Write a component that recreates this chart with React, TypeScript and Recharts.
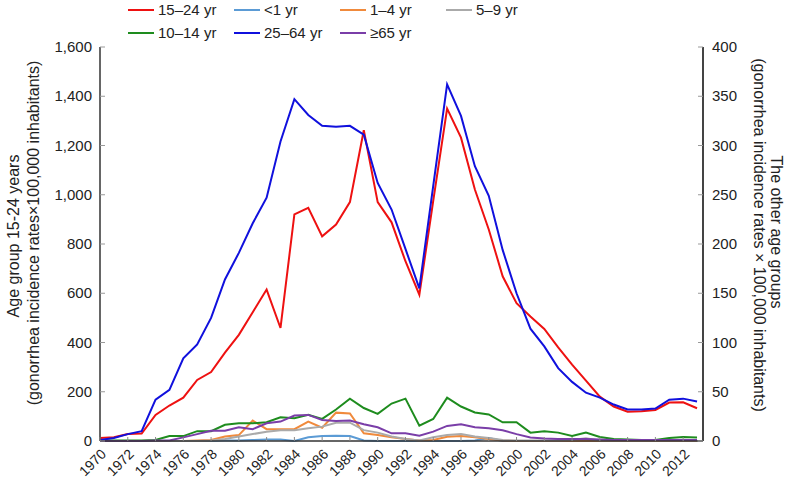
import React from 'react';
import { LineChart, Line, XAxis, YAxis } from 'recharts';

// Gonorrhea incidence by age group, 1970–2013.
// 15–24 yr is read on the left axis, every other group on the right.
const years = [
  1970, 1971, 1972, 1973, 1974, 1975, 1976, 1977, 1978, 1979,
  1980, 1981, 1982, 1983, 1984, 1985, 1986, 1987, 1988, 1989,
  1990, 1991, 1992, 1993, 1994, 1995, 1996, 1997, 1998, 1999,
  2000, 2001, 2002, 2003, 2004, 2005, 2006, 2007, 2008, 2009,
  2010, 2011, 2012, 2013,
];

const age15to24 = [
  12, 15, 28, 30, 106, 144, 176, 248, 280, 359,
  431, 523, 615, 459, 920, 947, 831, 879, 970, 1262,
  970, 888, 730, 594, 975, 1350, 1232, 1021, 859, 669,
  560, 506, 455, 380, 310, 245, 180, 140, 119, 121,
  126, 156, 157, 133,
];
const ageUnder1 = [
  0, 0, 0, 0, 0, 0, 0, 0, 0, 0.5,
  0.5, 1, 1.5, 1.5, 0, 3.7, 5, 5.4, 5, 0.5,
  0, 0, 0, 0, 0, 0, 0, 0.5, 3, 0,
  0, 0, 0, 0, 0, 0, 0, 0, 0, 0,
  0, 0, 0, 0,
];
const age1to4 = [
  0, 0, 0, 0, 0, 0, 0, 0.5, 1, 4.5,
  6, 20.7, 12, 12, 12, 19.7, 13.5, 28.8, 28, 7.8,
  6, 3.7, 2, 0.5, 1, 4.4, 5, 3.7, 2, 0.5,
  0, 0, 0, 0, 0, 0, 0, 0, 0, 0,
  0, 0, 0, 0,
];
const age5to9 = [
  0, 0, 0, 0, 0, 0, 0, 0, 0.5, 2,
  4.5, 7, 9.5, 11, 11, 13, 14.6, 18.6, 18.6, 11,
  8.5, 4.5, 2, 0.5, 3.7, 6, 7, 4.5, 3, 1,
  0.5, 0.5, 0.5, 0.5, 1, 2.7, 0.5, 0.5, 0.5, 0.5,
  0.5, 0.5, 0.5, 0.5,
];
const age10to14 = [
  0.5, 0.5, 0.5, 0.5, 1, 5, 5, 10, 10, 16.5,
  18, 18, 19, 24, 23, 26.5, 22.5, 32, 43, 33.5,
  27.5, 38, 43, 15.6, 22.4, 44, 35, 29, 27, 19,
  19, 8.5, 10, 8.5, 5, 8.5, 4, 2, 1.5, 1,
  1, 3, 4, 3.5,
];
const age25to64 = [
  1, 3, 7, 10, 42, 52, 84, 98, 125, 164,
  191, 221, 247, 304, 347, 331, 320, 319, 320, 311,
  262, 235, 195, 155, 259, 362, 330, 279, 249, 194,
  150, 114, 96, 74, 60, 49, 44, 37, 32, 32,
  33, 42, 43, 40,
];
const age65plus = [
  0, 0, 0, 0, 0.5, 0.5, 3.7, 7, 10.5, 10.5,
  14, 12, 18, 19.7, 25.8, 26.5, 21.4, 20.4, 20.7, 17,
  14, 7.8, 7.8, 5.4, 9.5, 15.3, 17, 14, 13, 11,
  7, 3.5, 2.5, 2, 2, 2, 1.5, 1, 1, 1,
  1, 1, 1, 1,
];

const xTicks = [
  1970, 1972, 1974, 1976, 1978, 1980, 1982, 1984, 1986, 1988, 1990,
  1992, 1994, 1996, 1998, 2000, 2002, 2004, 2006, 2008, 2010, 2012,
];
const leftTicks = [0, 200, 400, 600, 800, 1000, 1200, 1400, 1600];
const rightTicks = [0, 50, 100, 150, 200, 250, 300, 350, 400];

const data = years.map((year, i) => ({
  year,
  a15: age15to24[i],
  a0: ageUnder1[i],
  a1: age1to4[i],
  a5: age5to9[i],
  a10: age10to14[i],
  a25: age25to64[i],
  a65: age65plus[i],
}));

const FONT = '"Liberation Sans", Arial, Helvetica, sans-serif';
const NARROW = '"Liberation Sans Narrow", "Arial Narrow", "Liberation Sans", Arial, sans-serif';

const COLORS = {
  a15: '#ee1111',
  a0: '#5b9bd5',
  a1: '#f08a3c',
  a5: '#aaaaaa',
  a10: '#1e8c1e',
  a25: '#1010dd',
  a65: '#7a3ea8',
};

const legendRows = [
  [
    { key: 'a15', label: '15–24 yr' },
    { key: 'a0', label: '<1 yr' },
    { key: 'a1', label: '1–4 yr' },
    { key: 'a5', label: '5–9 yr' },
  ],
  [
    { key: 'a10', label: '10–14 yr' },
    { key: 'a25', label: '25–64 yr' },
    { key: 'a65', label: '≥65 yr' },
  ],
];

const fmtThousands = (v: number) => v.toLocaleString('en-US');

const LegendBox = () => (
  <svg width={798} height={44} style={{ display: 'block' }}>
    {legendRows.map((row, r) =>
      row.map((item, c) => {
        const x = 128 + c * 106;
        const y = 10 + r * 23;
        return (
          <g key={item.key}>
            <line x1={x} x2={x + 26} y1={y} y2={y} stroke={(COLORS as any)[item.key]} strokeWidth={2} />
            <text x={x + 30} y={y} dy={5} fontSize={15} fontFamily={NARROW} fill="#222">
              {item.label}
            </text>
          </g>
        );
      })
    )}
  </svg>
);

const XTick = ({ x, y, payload }: any) => (
  <g>
    <line x1={x} x2={x} y1={y} y2={y - 4} stroke="#888" />
    <text
      x={x + 7}
      y={y + 14}
      textAnchor="end"
      fontSize={14}
      fontFamily={FONT}
      fill="#222"
      transform={`rotate(-45, ${x + 7}, ${y + 14})`}
    >
      {payload.value}
    </text>
  </g>
);

const LeftTick = ({ x, y, payload }: any) => (
  <g>
    <line x1={x} x2={x + 5} y1={y} y2={y} stroke="#999" />
    <text x={x - 8} y={y} dy={5} textAnchor="end" fontSize={15} fontFamily={FONT} fill="#222">
      {fmtThousands(payload.value)}
    </text>
  </g>
);

const RightTick = ({ x, y, payload }: any) => (
  <g>
    <line x1={x - 5} x2={x} y1={y} y2={y} stroke="#999" />
    <text x={x + 9} y={y} dy={5} textAnchor="start" fontSize={15} fontFamily={FONT} fill="#222">
      {payload.value}
    </text>
  </g>
);

const LeftTitle = () => (
  <g fontFamily={FONT} fontSize={16} fill="#222" textAnchor="middle">
    <text x={19} y={236} transform="rotate(-90, 19, 236)">Age group 15-24 years</text>
    <text x={39} y={233} transform="rotate(-90, 39, 233)">(gonorrhea incidence rates×100,000 inhabitants)</text>
  </g>
);

const RightTitle = () => (
  <g fontFamily={FONT} fontSize={16} fill="#222" textAnchor="middle">
    <text x={771} y={232} transform="rotate(90, 771, 232)">The other age groups</text>
    <text x={754} y={235} transform="rotate(90, 754, 235)">(gonorrhea incidence rates × 100,000 inhabitants)</text>
  </g>
);

export default function App() {
  return (
    <div style={{ position: 'absolute', left: 0, top: 0, width: 798, height: 478, background: '#fff' }}>
      <LineChart width={798} height={478} data={data} margin={{ top: 47, right: 0, bottom: 0, left: 0 }}>
        <XAxis
          dataKey="year"
          type="number"
          domain={[1970, 2013.43]}
          ticks={xTicks}
          interval={0}
          allowDataOverflow
          height={37}
          tickSize={0}
          tickMargin={0}
          tickLine={false}
          tick={<XTick />}
          axisLine={{ stroke: '#333', strokeWidth: 1.5 }}
        />
        <YAxis
          yAxisId="left"
          orientation="left"
          domain={[0, 1600]}
          ticks={leftTicks}
          interval={0}
          width={100}
          tickSize={0}
          tickMargin={0}
          tickLine={false}
          tick={<LeftTick />}
          axisLine={{ stroke: '#333', strokeWidth: 1.5 }}
          label={{ content: <LeftTitle /> }}
        />
        <YAxis
          yAxisId="right"
          orientation="right"
          domain={[0, 400]}
          ticks={rightTicks}
          interval={0}
          width={95}
          tickSize={0}
          tickMargin={0}
          tickLine={false}
          tick={<RightTick />}
          axisLine={{ stroke: '#444', strokeWidth: 2 }}
          label={{ content: <RightTitle /> }}
        />
        <Line yAxisId="right" dataKey="a0" stroke={COLORS.a0} strokeWidth={2} dot={false} isAnimationActive={false} />
        <Line yAxisId="right" dataKey="a1" stroke={COLORS.a1} strokeWidth={2} dot={false} isAnimationActive={false} />
        <Line yAxisId="right" dataKey="a5" stroke={COLORS.a5} strokeWidth={2} dot={false} isAnimationActive={false} />
        <Line yAxisId="right" dataKey="a10" stroke={COLORS.a10} strokeWidth={2} dot={false} isAnimationActive={false} />
        <Line yAxisId="right" dataKey="a65" stroke={COLORS.a65} strokeWidth={2} dot={false} isAnimationActive={false} />
        <Line yAxisId="left" dataKey="a15" stroke={COLORS.a15} strokeWidth={2} dot={false} isAnimationActive={false} />
        <Line yAxisId="right" dataKey="a25" stroke={COLORS.a25} strokeWidth={2} dot={false} isAnimationActive={false} />
      </LineChart>
      <div style={{ position: 'absolute', left: 0, top: 0 }}>
        <LegendBox />
      </div>
    </div>
  );
}
